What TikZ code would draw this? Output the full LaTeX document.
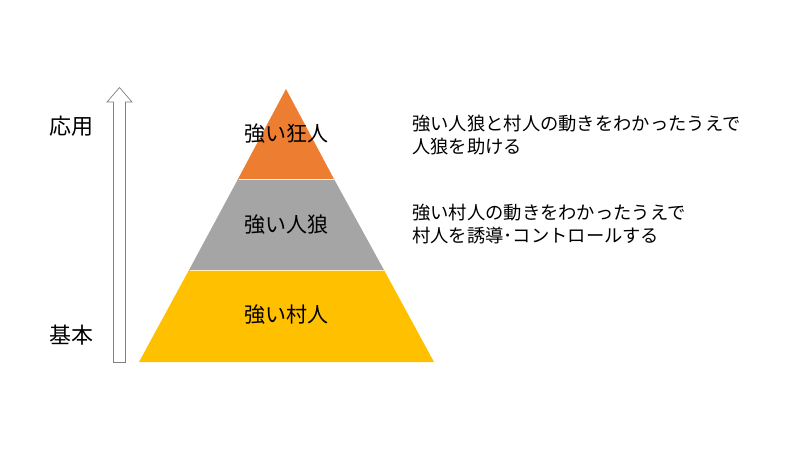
\documentclass[tikz,border=0pt]{standalone}
\usepackage{fontspec}
\setmainfont{Noto Sans CJK JP}
\definecolor{orangeL}{HTML}{ED7D31}
\definecolor{grayL}{HTML}{A5A5A5}
\definecolor{goldL}{HTML}{FFC000}
\definecolor{arrowEdge}{HTML}{7F7F7F}
\begin{document}
\begin{tikzpicture}[x=1pt,y=-1pt,
  laytext/.style={font=\fontsize{21}{25}\selectfont, inner sep=0pt},
  sidetext/.style={font=\fontsize{22}{26}\selectfont, inner sep=0pt},
  desctext/.style={font=\fontsize{18.3}{23.5}\selectfont, inner sep=0pt, align=left, anchor=west},
  bigarrow/.style={draw=arrowEdge, fill=white, line width=0.7pt, line join=miter}]
\useasboundingbox (0,0) rectangle (800,450);
% pyramid
\coordinate (apex) at (286,89);
\coordinate (bl) at (139,362);
\coordinate (br) at (434,362);
\fill[goldL] (189,270) -- (384,270) -- (br) -- (bl) -- cycle;
\fill[grayL] (238,179) -- (334,179) -- (384,270) -- (189,270) -- cycle;
\fill[orangeL] (apex) -- (334,179) -- (238,179) -- cycle;
\draw[white!80!goldL, line width=0.9pt] (238.5,179) -- (333.5,179);
\draw[white!75!goldL, line width=0.9pt] (189.5,270) -- (383.5,270);
% layer labels
\node[laytext] (top) at (286,134) {強い狂人};
\node[laytext] (mid) at (286,225) {強い人狼};
\node[laytext] (bot) at (286,315) {強い村人};
% arrow
\draw[bigarrow] (113.5,362.5) -- (125.5,362.5) -- (125.5,102) -- (132,102) -- (119.5,87.5) -- (107,102) -- (113.5,102) -- cycle;
\node[sidetext] (apply) at (71,126) {応用};
\node[sidetext] (basic) at (71,335) {基本};
% descriptions
\node[desctext] (d1) at (412,135) {強い人狼と村人の動きをわかったうえで\\人狼を助ける};
\node[desctext] (d2) at (412,224) {強い村人の動きをわかったうえで\\村人を誘導･コントロールする};
\end{tikzpicture}
\end{document}
